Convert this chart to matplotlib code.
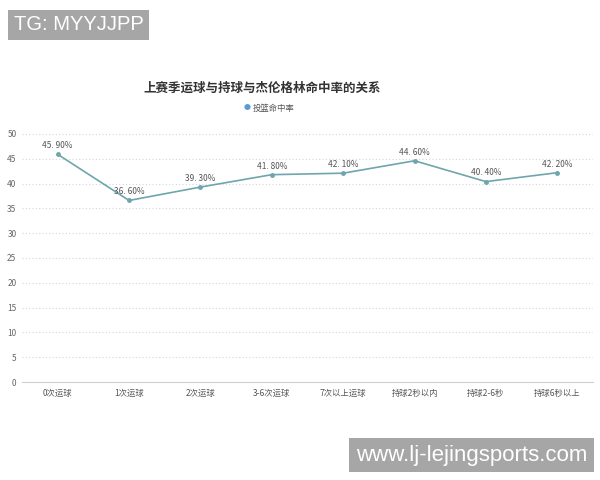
import matplotlib.pyplot as plt

plt.rcParams['font.family'] = ['Noto Sans CJK SC', 'DejaVu Sans']

categories = ['0次运球', '1次运球', '2次运球', '3-6次运球', '7次以上运球',
              '持球2秒以内', '持球2-6秒', '持球6秒以上']
fg_pct = [45.9, 36.6, 39.3, 41.8, 42.1, 44.6, 40.4, 42.2]
point_labels = ['45. 90%', '36. 60%', '39. 30%', '41. 80%', '42. 10%',
                '44. 60%', '40. 40%', '42. 20%']
y_ticks = [0, 5, 10, 15, 20, 25, 30, 35, 40, 45, 50]

fig = plt.figure(figsize=(6, 4.8), dpi=100)
ax = fig.add_axes([22 / 600, 1 - 382 / 480, 571 / 600, 248 / 480])

x = range(len(categories))
ax.plot(x, fg_pct, color='#6fa5ad', linewidth=1.2, marker='o', markersize=2.5)
for xi, yi, lab in zip(x, fg_pct, point_labels):
    ax.annotate(lab, (xi, yi), xytext=(0, 3), textcoords='offset points',
                ha='center', va='bottom', fontsize=6, color='#555555')

ax.set_xlim(-0.5, len(categories) - 0.5)
ax.set_ylim(0, 50)
ax.set_yticks(y_ticks)
ax.set_xticks(list(x))
ax.set_xticklabels(categories)
ax.tick_params(axis='x', length=0, labelsize=6, colors='#555555', pad=5)
ax.tick_params(axis='y', length=0, labelsize=6, colors='#666666', pad=4)
ax.grid(axis='y', linestyle=(0, (1, 2)), color='#d6d6d6', linewidth=0.8)
for s in ['top', 'right', 'left']:
    ax.spines[s].set_visible(False)
ax.spines['bottom'].set_color('#d0d0d0')

fig.text(262 / 600, 1 - 88 / 480, '上赛季运球与持球与杰伦格林命中率的关系',
         ha='center', va='center', fontsize=9, fontweight='bold', color='#333333')
fig.text(247 / 600, 1 - 108 / 480, '●', ha='center', va='center',
         fontsize=5, color='#5b9bd5')
fig.text(253 / 600, 1 - 108 / 480, '投篮命中率', ha='left', va='center',
         fontsize=6, color='#555555')

# watermarks
fig.text(14 / 600, 1 - 25 / 480, 'TG: MYYJJPP', ha='left', va='center',
         fontsize=14.5, color='white', family='Liberation Sans',
         bbox=dict(boxstyle='square,pad=0.28', fc='#a6a6a6', ec='none'))
fig.text(356 / 600, 1 - 455 / 480, 'www.lj-lejingsports.com', ha='left', va='center',
         fontsize=16, color='white', family='Liberation Sans',
         bbox=dict(boxstyle='square,pad=0.3', fc='#a6a6a6', ec='none'))

fig.savefig('out.png', dpi=100)
